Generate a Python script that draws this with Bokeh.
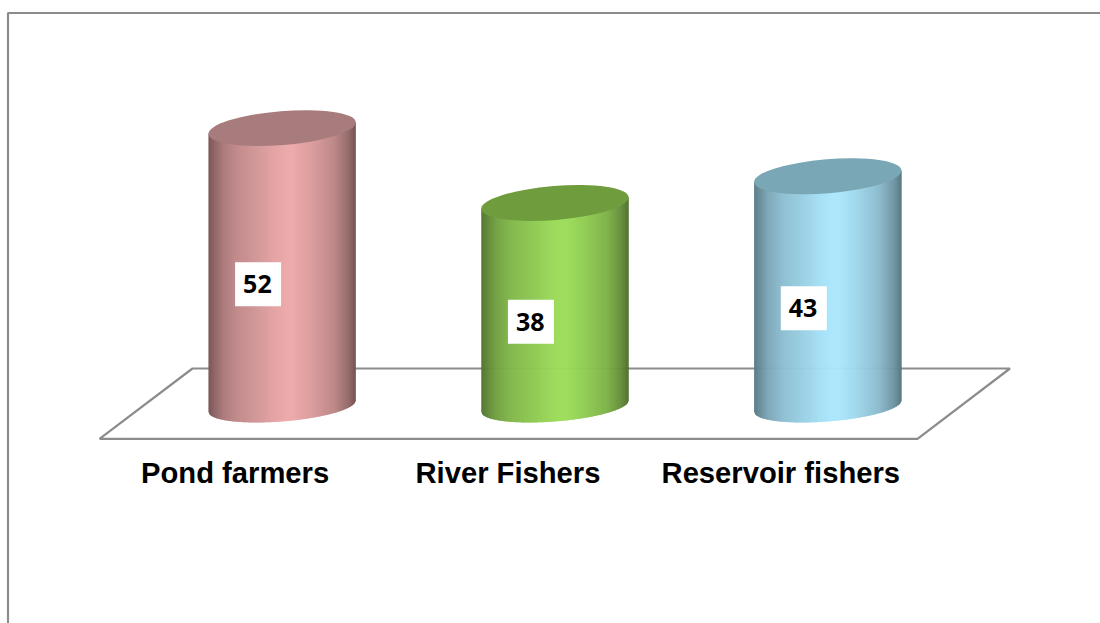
import numpy as np
from bokeh.core.properties import value
from bokeh.embed import file_html
from bokeh.models import Range1d
from bokeh.plotting import figure
from bokeh.resources import INLINE

# Chart data
categories = ["Pond farmers", "River Fishers", "Reservoir fishers"]
counts = [52, 38, 43]
side_colors = ["#ecaaab", "#9bdc58", "#aae6fd"]
cap_colors = ["#a87c7c", "#6f9d3e", "#7aa7b6"]

# Layout of the pseudo-3D scene, in screen pixels
WIDTH, HEIGHT = 1100, 623
FIRST_X, SLOT = 281.6, 272.85
BASE_Y, PX_PER_UNIT = 405.8, 5.35
SEMI_MAJOR, SEMI_MINOR, TILT = 73.9, 17.0, np.radians(4.63)
BOTTOM_FLATTEN = 0.89

GRID = "#8c8c8c"


def x_from_px(px):
    return (np.asarray(px, dtype=float) - FIRST_X) / SLOT


def y_from_px(py):
    return (BASE_Y - np.asarray(py, dtype=float)) / PX_PER_UNIT


p = figure(
    width=WIDTH, height=HEIGHT, output_backend="svg", toolbar_location=None,
    x_range=Range1d(float(x_from_px(0)), float(x_from_px(WIDTH))),
    y_range=Range1d(float(y_from_px(HEIGHT)), float(y_from_px(0))),
    x_axis_type="linear", y_axis_type="linear",
    min_border=0, outline_line_color=None, background_fill_color="white",
)
p.axis.visible = False
p.grid.visible = False

# Outer chart frame (left and top edges)
p.line(x_from_px([7.5, 7.5, WIDTH]), y_from_px([HEIGHT, 12.5, 12.5]), line_color=GRID, line_width=2.2)

# Floor of the 3D plot area
p.line(x_from_px([99, 917, 1009.5, 192, 99]), y_from_px([438.3, 438.3, 368, 368, 438.3]),
       line_color=GRID, line_width=2.2)

# Horizontal shading across a cylinder's side: position -> brightness
SHADE_POS = [0.0, 0.05, 0.10, 0.20, 0.35, 0.45, 0.52, 0.58, 0.70, 0.85, 0.95, 1.0]
SHADE_VAL = [0.52, 0.63, 0.73, 0.83, 0.91, 0.97, 1.0, 1.0, 0.93, 0.81, 0.64, 0.50]


def rgb(color):
    return np.array([int(color[i:i + 2], 16) for i in (1, 3, 5)], dtype=float)


# Implicit form of the tilted ellipse: A*Y^2 + B*X*Y + C*X^2 = 1
sin_t, cos_t = np.sin(TILT), np.cos(TILT)
A = sin_t**2 / SEMI_MAJOR**2 + cos_t**2 / SEMI_MINOR**2
B = 2 * sin_t * cos_t * (1 / SEMI_MAJOR**2 - 1 / SEMI_MINOR**2)
C = cos_t**2 / SEMI_MAJOR**2 + sin_t**2 / SEMI_MINOR**2
half_width = np.sqrt(SEMI_MAJOR**2 * cos_t**2 + SEMI_MINOR**2 * sin_t**2)


def chord(dx):
    return -B * dx / (2 * A)


def lower_arc(dx):
    disc = np.maximum(B**2 * dx**2 - 4 * A * (C * dx**2 - 1), 0)
    return chord(dx) - BOTTOM_FLATTEN * np.sqrt(disc) / (2 * A)


edges = np.arange(-half_width, half_width + 1, 1.0)
edges[-1] = half_width

for i, (count, side, cap) in enumerate(zip(counts, side_colors, cap_colors)):
    xs, ys, fills = [], [], []
    top_px = count * PX_PER_UNIT
    for left, right in zip(edges[:-1], edges[1:]):
        right_ov = min(right + 0.6, half_width)
        t = ((left + right) / 2 + half_width) / (2 * half_width)
        shade = np.interp(t, SHADE_POS, SHADE_VAL)
        r, g, b = np.clip(rgb(side) * shade, 0, 255).astype(int)
        fills.append(f"#{r:02x}{g:02x}{b:02x}")
        xs.append((i + np.array([left, right_ov, right_ov, left]) / SLOT).tolist())
        ys.append(((np.array([lower_arc(left), lower_arc(right_ov),
                              top_px + chord(right_ov), top_px + chord(left)])) / PX_PER_UNIT).tolist())
    p.patches(xs, ys, fill_color=fills, line_color=None)
    p.ellipse([i], [count], width=[2 * SEMI_MAJOR], height=[2 * SEMI_MINOR], angle=[TILT],
              width_units="screen", height_units="screen", angle_units="rad",
              fill_color=cap, line_color=None)

# Value labels on white boxes, left of each cylinder's axis
LABEL_DX, LABEL_DY = -24.0, -17.0
positions = list(range(len(counts)))
label_x = [i + LABEL_DX / SLOT for i in positions]
label_y = [c / 2 + LABEL_DY / PX_PER_UNIT for c in counts]
p.rect(label_x, label_y, width=46 / SLOT, height=44 / PX_PER_UNIT, fill_color="white", line_color=None)
p.text(label_x, label_y, text=[str(c) for c in counts], x_offset=-0.7, text_font=value("Open Sans"),
       text_font_style="bold", text_font_size="25px", text_color="black",
       text_align="center", text_baseline="middle")

# Category labels under the floor
p.text(positions, [float(y_from_px(472.5))] * 3, text=categories, x_offset=-47,
       text_font=value("Liberation Sans"), text_font_style="bold", text_font_size="29.2px",
       text_color="black", text_align="center", text_baseline="middle")

open("out.html", "w").write(file_html(p, INLINE))
